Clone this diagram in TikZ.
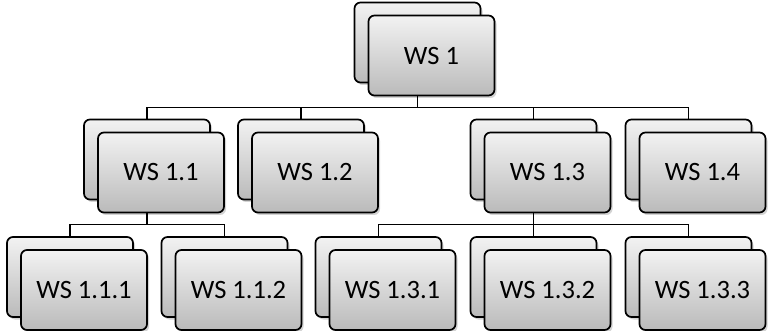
\documentclass[tikz,border=0pt]{standalone}
\usepackage{fontspec}
\setmainfont{Carlito}
\usetikzlibrary{shadows}

\tikzset{
  wsbox/.style={draw=black, line width=1.7pt, rounded corners=6pt,
    minimum width=126pt, minimum height=80pt, inner sep=0pt,
    top color=black!5, bottom color=black!27,
    drop shadow={shadow xshift=2pt, shadow yshift=-2.5pt, opacity=0.35},
    font=\fontsize{26.5}{30}\selectfont},
  wsline/.style={draw=black, line width=1.6pt}
}

\begin{document}
\begin{tikzpicture}[x=1pt,y=-1pt]
\useasboundingbox (0,0) rectangle (768,331);

% boxes: back copy first, then the front one with the label
\foreach \nm/\px/\py/\txt in {
    ws1/431.5/55.5/WS 1,
    wsA/161/172.5/WS 1.1, wsB/315/172.5/WS 1.2,
    wsC/547.5/172.5/WS 1.3, wsD/702.5/172.5/WS 1.4,
    wsAA/84/290/WS 1.1.1, wsAB/238.5/290/WS 1.1.2,
    wsCA/392.5/290/WS 1.3.1, wsCB/547.5/290/WS 1.3.2,
    wsCC/702.5/290/WS 1.3.3} {
  \node[wsbox] (\nm b) at (\px-14,\py-13) {};
  \node[wsbox] (\nm) at (\px,\py) {\txt};
}

% connectors
\foreach \pa/\ch in {ws1/wsA, ws1/wsB, ws1/wsC, ws1/wsD,
    wsA/wsAA, wsA/wsAB, wsC/wsCA, wsC/wsCB, wsC/wsCC}
  \draw[wsline] (\pa.south -| \pa b.center) -- ++(0,11) -| (\ch b.north);
\end{tikzpicture}
\end{document}
